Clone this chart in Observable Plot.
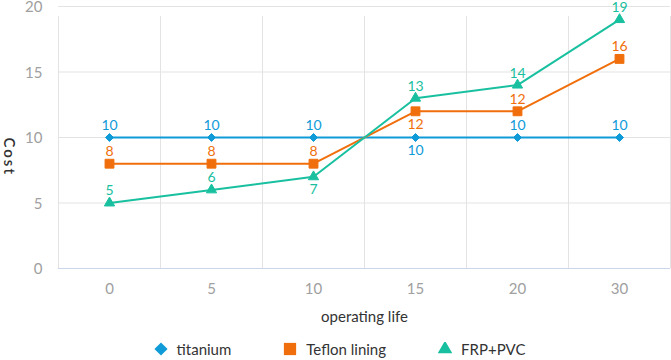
<!DOCTYPE html>
<html>
<head>
<meta charset="utf-8">
<script src="https://cdn.jsdelivr.net/npm/d3@7"></script>
<script src="https://cdn.jsdelivr.net/npm/@observablehq/plot@0.6"></script>
<style>
  html, body { margin: 0; padding: 0; background: #fff; }
  body { width: 671px; height: 360px; overflow: hidden; font-family: Lato, "Noto Sans", sans-serif; }
  #chart svg { overflow: visible; display: block; }
  #legend { display: flex; justify-content: center; align-items: center; height: 22px; padding-left: 8px; font-size: 15px; color: #333; }
  #legend .item { display: flex; align-items: center; margin: 0 26px; }
  #legend svg { margin-right: 9px; }
</style>
</head>
<body>
<div id="chart"></div>
<div id="legend"></div>
<script>
const categories = ["0", "5", "10", "15", "20", "30"];
const titanium = [10, 10, 10, 10, 10, 10];
const teflon = [8, 8, 8, 12, 12, 16];
const frp = [5, 6, 7, 13, 14, 19];
const seriesNames = ["titanium", "Teflon lining", "FRP+PVC"];
const yTicks = [0, 5, 10, 15, 20];

const colors = ["#0f9ad8", "#f06f0c", "#19c0a0"];
const symbols = ["diamond2", "square", "triangle"];
const radii = [3.6, 5, 3.8];
// label placed below the point for these indices
const labelsBelow = [[3], [3], [2]];

const seriesValues = [titanium, teflon, frp];
const series = seriesNames.map((name, s) => ({
  name, color: colors[s], symbol: symbols[s], r: radii[s],
  data: seriesValues[s].map((v, i) => ({i, v, cat: categories[i], below: labelsBelow[s].includes(i)}))
}));

const n = categories.length;
const bounds = d3.range(n + 1).map(k => k - 0.5);

const marks = [
  Plot.ruleY(yTicks.filter(t => t > 0), {stroke: "#e3e3e3", strokeWidth: 1}),
  Plot.ruleX(bounds, {y1: 0, y2: 20, stroke: "#e3e3e3", strokeWidth: 1, insetBottom: -10}),
  Plot.ruleY([0], {stroke: "#ccd6eb", strokeWidth: 1}),
  Plot.axisY({ticks: yTicks, tickSize: 0, tickPadding: 16, fontSize: 15, fill: "#a0a0a0", label: null, dy: 1}),
  Plot.axisX({ticks: d3.range(n), tickFormat: i => categories[i], tickSize: 0, tickPadding: 15, fontSize: 15, fill: "#a0a0a0", label: null}),
  Plot.text(["operating life"], {frameAnchor: "bottom", dy: 53, fontSize: 15, fill: "#333"}),
  Plot.text(["Cost"], {frameAnchor: "left", dx: -50, rotate: 90, fontSize: 15, fontWeight: 600, fill: "#333"})
];

for (const s of series) {
  marks.push(Plot.line(s.data, {x: "i", y: "v", stroke: s.color, strokeWidth: 2}));
}
for (const s of series) {
  marks.push(Plot.dot(s.data, {x: "i", y: "v", symbol: () => s.symbol, r: s.r, fill: s.color, stroke: s.color, strokeWidth: 1}));
}
for (const s of series) {
  marks.push(Plot.text(s.data.filter(d => !d.below), {x: "i", y: "v", text: d => String(d.v), dy: -12, fill: s.color, fontSize: 14}));
  marks.push(Plot.text(s.data.filter(d => d.below), {x: "i", y: "v", text: d => String(d.v), dy: 13, fill: s.color, fontSize: 14}));
}

const plot = Plot.plot({
  width: 671,
  height: 338,
  marginLeft: 58,
  marginRight: 1,
  marginTop: 6,
  marginBottom: 70,
  style: {fontFamily: "Lato, 'Noto Sans', sans-serif", background: "#fff", overflow: "visible"},
  x: {type: "linear", domain: [-0.5, n - 0.5]},
  y: {domain: [0, 20]},
  symbol: {type: "identity"},
  marks
});
d3.select(plot).selectAll("text").filter(function() { return this.textContent === "Cost"; }).attr("letter-spacing", "2px");
document.getElementById("chart").appendChild(plot);

// legend
const legend = d3.select("#legend");
series.forEach(s => {
  const item = legend.append("div").attr("class", "item");
  const svg = item.append("svg").attr("width", 14).attr("height", 14);
  const sym = {diamond2: d3.symbolDiamond2, square: d3.symbolSquare, triangle: d3.symbolTriangle}[s.symbol];
  const size = {diamond2: 110, square: 150, triangle: 90}[s.symbol];
  svg.append("path").attr("transform", "translate(7,7)").attr("d", d3.symbol(sym, size)()).attr("fill", s.color);
  item.append("span").text(s.name);
});
</script>
</body>
</html>
